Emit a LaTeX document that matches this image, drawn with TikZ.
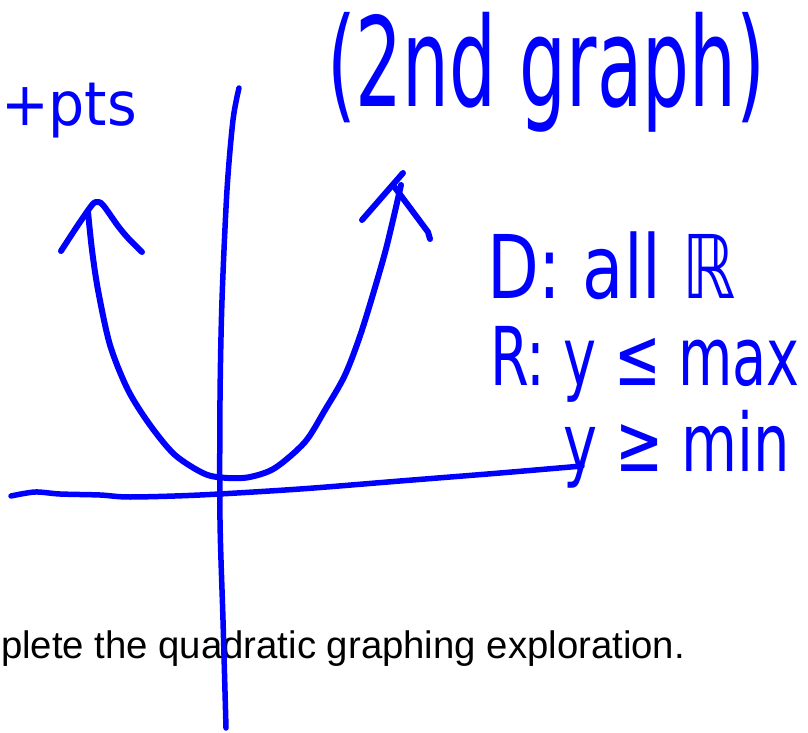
\documentclass[tikz,border=0pt]{standalone}
\usepackage{fontspec}
\usepackage{graphicx}
\setmainfont{Liberation Sans}
\newfontfamily\hwfont{DejaVu Sans Condensed}
\newdimen\px \px=0.02cm
\definecolor{ink}{RGB}{0,0,255}
\begin{document}
\begin{tikzpicture}[x=0.02cm,y=-0.02cm,
  inkline/.style={draw=ink,line width=6\px,line cap=round,line join=round},
  axisline/.style={inkline,line width=5.5\px},
  hw/.style={inner sep=0,outer sep=0,anchor=north west,text=ink},
  print/.style={inner sep=0,outer sep=0,anchor=base west,text=black}]
\useasboundingbox (0,0) rectangle (808,733);
% printed caption
\node[print] (caption) at (1,658) {\resizebox{684\px}{!}{plete the quadratic graphing exploration.}};
% handwritten labels
\node[hw] (pts) at (1,83) {\resizebox*{136\px}{55\px}{\hwfont +pts}};
\node[hw] (title) at (327,12) {\resizebox*{438\px}{120\px}{\hwfont (2nd graph)}};
\node[hw] (dom) at (487,232) {\resizebox*{249\px}{68\px}{\hwfont D: all ℝ}};
\node[hw] (rmax) at (490,326) {\resizebox*{310\px}{76\px}{\hwfont R: y ≤ max}};
\node[hw] (ymin) at (563,410) {\resizebox*{227\px}{78\px}{\hwfont y ≥ min}};
% axes
\draw[axisline] plot[smooth] coordinates {(239,88) (233,120) (227,190) (222,300) (220,400) (220,520) (223,620) (226,728)};
\draw[axisline] plot[smooth] coordinates {(11,496) (35,492) (60,494) (100,495) (130,497) (200,495) (300,489) (400,481) (500,473) (582,466)};
% parabola
\draw[inkline] plot[smooth] coordinates {(88,212) (92,250) (98,290) (110,345) (128,390) (150,425) (175,455) (205,474) (228,478) (250,477) (275,468) (305,442) (325,410) (345,375) (362,330) (383,260) (393,220) (401,185)};
% arrowheads
\draw[inkline] plot[smooth] coordinates {(61,251) (78,225) (92,205) (97,202) (103,205) (118,226) (128,238) (142,252)};
\draw[inkline] (362,220) -- (403,173);
\draw[inkline] (393,185) -- (428,232) -- (430,239);
\end{tikzpicture}
\end{document}
